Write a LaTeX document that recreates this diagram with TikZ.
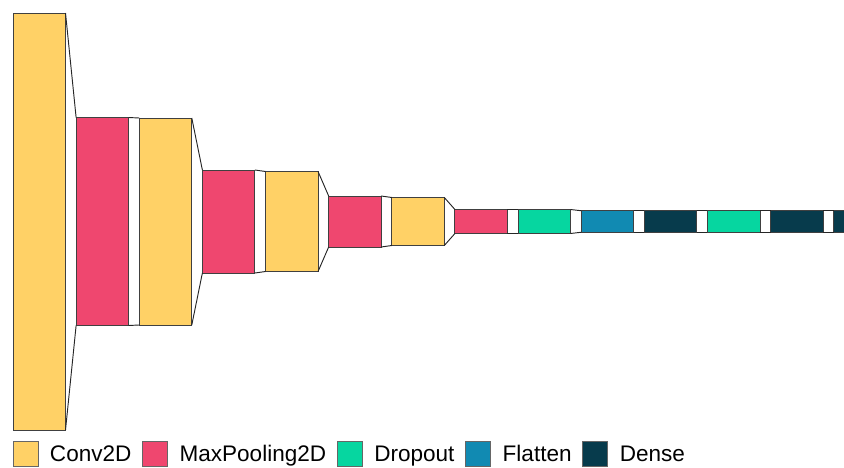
\documentclass[tikz,border=0pt]{standalone}
\usepackage{fontspec}
\setmainfont{Liberation Sans}
\usetikzlibrary{positioning}

\definecolor{convc}{HTML}{FFD166}
\definecolor{poolc}{HTML}{EF476F}
\definecolor{dropc}{HTML}{06D6A0}
\definecolor{flatc}{HTML}{118AB2}
\definecolor{densec}{HTML}{073B4C}

\tikzset{
  layer/.style={draw=black!75, line width=0.7pt, inner sep=0pt, outer sep=0pt, minimum width=39.4pt},
  conv/.style={layer, fill=convc, minimum height=#1*0.75pt},
  pool/.style={layer, fill=poolc, minimum height=#1*0.75pt},
  drop/.style={layer, fill=dropc, minimum height=#1*0.75pt},
  flat/.style={layer, fill=flatc, minimum height=#1*0.75pt},
  dense/.style={layer, fill=densec, minimum height=#1*0.75pt},
  funnel/.style={draw=black!85, line width=0.7pt},
  key/.style={draw=black!60, line width=0.6pt, inner sep=0pt, outer sep=0pt, minimum size=18.75pt},
  keytext/.style={font=\fontsize{16.9}{20}\selectfont, inner sep=0pt, outer sep=0pt, text height=12.1pt, text depth=0pt}
}

\begin{document}
\begin{tikzpicture}[x=0.75pt, y=-0.75pt, node distance=7.95pt]
  \useasboundingbox (0,0) rectangle (844,468);
  \clip (0,0) rectangle (844,468);

  % draw layers
  \node[conv=417] (conv1) at (39.25,221.5) {};
  \node[pool=208, right=of conv1] (pool1) {};
  \node[conv=207, right=of pool1] (conv2) {};
  \node[pool=103, right=of conv2] (pool2) {};
  \node[conv=100, right=of pool2] (conv3) {};
  \node[pool=51,  right=of conv3] (pool3) {};
  \node[conv=48,  right=of pool3] (conv4) {};
  \node[pool=24,  right=of conv4] (pool4) {};
  \node[drop=24,  right=of pool4] (drop1) {};
  \node[flat=21.5,  right=of drop1] (flat1) {};
  \node[dense=21.5, right=of flat1] (dense1) {};
  \node[drop=21.5,  right=of dense1] (drop2) {};
  \node[dense=21.5, right=of drop2] (dense2) {};
  \node[dense=21.5, right=of dense2] (dense3) {};

  % draw funnels between layers
  \foreach \a/\b in {conv1/pool1, pool1/conv2, conv2/pool2, pool2/conv3, conv3/pool3,
                     pool3/conv4, conv4/pool4, pool4/drop1, drop1/flat1, flat1/dense1,
                     dense1/drop2, drop2/dense2, dense2/dense3}
  {
    \draw[funnel] (\a.north east) -- (\b.north west);
    \draw[funnel] (\a.south east) -- (\b.south west);
  }

  % draw legend
  \node[key, fill=convc] (kconv) at (25.5,453.5) {};
  \node[keytext, right=9pt of kconv] (tconv) {Conv2D};
  \node[key, fill=poolc, right=8.4pt of tconv] (kpool) {};
  \node[keytext, right=9pt of kpool] (tpool) {MaxPooling2D};
  \node[key, fill=dropc, right=8.4pt of tpool] (kdrop) {};
  \node[keytext, right=9pt of kdrop] (tdrop) {Dropout};
  \node[key, fill=flatc, right=8.4pt of tdrop] (kflat) {};
  \node[keytext, right=9pt of kflat] (tflat) {Flatten};
  \node[key, fill=densec, right=8.4pt of tflat] (kdense) {};
  \node[keytext, right=9pt of kdense] (tdense) {Dense};
\end{tikzpicture}
\end{document}
